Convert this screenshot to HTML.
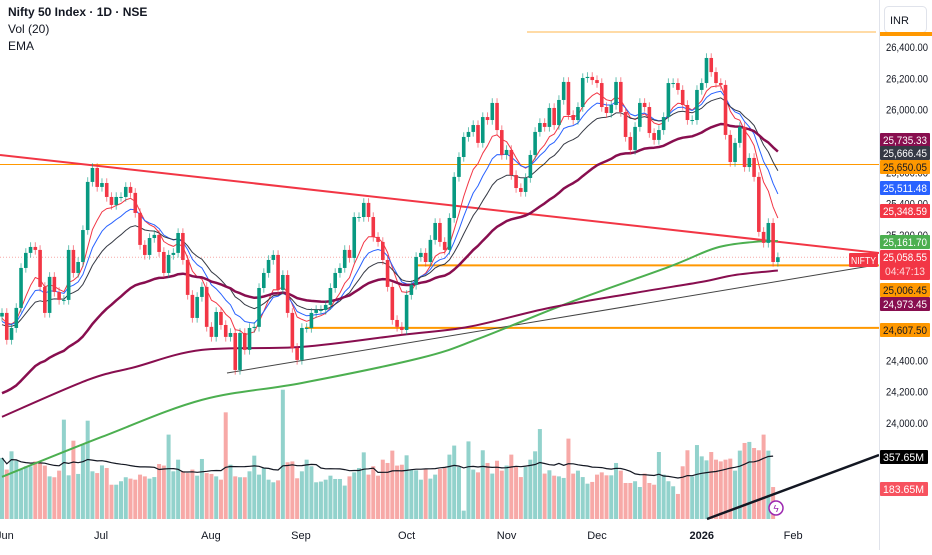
<!DOCTYPE html>
<html><head><meta charset="utf-8">
<style>
html,body{margin:0;padding:0;background:#fff;}
body{width:932px;height:550px;overflow:hidden;font-family:"Liberation Sans",sans-serif;}
svg text{font-family:"Liberation Sans",sans-serif;}
</style></head>
<body>
<svg id="chart" width="932" height="550" viewBox="0 0 932 550" xmlns="http://www.w3.org/2000/svg">
  <rect x="0" y="0" width="932" height="550" fill="#ffffff"/>
  <g id="plot"></g>
  <g id="axis"></g>
  <g id="timeaxis"></g>
  <text x="8" y="16" font-size="12" font-weight="bold" fill="#131722">Nifty 50 Index · 1D · NSE</text>
  <text x="8" y="33" font-size="12" fill="#131722">Vol (20)</text>
  <text x="8" y="50" font-size="12" fill="#131722">EMA</text>
</svg>
<script>
const closes = [24703,24531,24607,24735,24990,25086,25124,25105,24869,24703,24933,24837,24786,24786,25105,24958,25028,25232,25539,25628,
25507,25532,25443,25392,25443,25443,25507,25469,25341,25137,25073,25181,25201,25092,24958,25073,25086,25213,25041,24818,
24671,24805,24869,24614,24550,24709,24626,24550,24575,24339,24575,24467,24607,24614,24862,24958,25041,25073,24850,24945,
24703,24480,24403,24607,24607,24703,24722,24722,24754,24862,24958,24990,25105,25054,25315,25315,25405,25315,25188,25156,
25041,24869,24658,24614,24594,24818,24882,25060,25086,25028,25169,25277,25156,25105,25309,25571,25698,25826,25858,25902,
25788,25953,25934,26043,25870,25711,25743,25583,25500,25475,25564,25711,25858,25915,25890,26011,25902,26062,26177,25966,
25934,26017,26202,26209,26189,26170,26017,25979,26030,26177,25985,25826,25743,25890,26043,26017,25851,25807,25870,25953,
26170,26170,26126,26030,25934,25934,26126,26170,26330,26240,26170,26158,25839,25666,25788,25890,25634,25692,25571,25220,
25150,25277,25028,25058.55];
const firstOpen = 24680;
const volumes = [351,284,389,335,284,303,303,331,322,307,245,240,278,571,251,450,259,427,565,274,
264,308,293,197,197,217,240,232,226,255,245,232,241,316,307,485,274,341,274,264,
284,249,345,264,259,245,226,613,312,245,240,240,274,364,255,293,226,211,222,743,
326,331,234,274,341,303,211,215,226,249,230,230,192,245,268,293,383,255,303,249,
341,322,393,307,312,366,284,280,226,284,232,255,287,293,370,422,299,48,446,284,
268,395,322,261,335,278,307,370,299,241,299,341,389,517,261,280,249,245,236,462,
261,278,241,203,213,255,268,251,251,322,278,207,207,217,184,261,207,197,385,255,
217,188,144,303,395,245,425,360,337,385,341,331,341,347,278,393,437,443,408,395,485,393,183.65];
const emaPeriods = [8, 13, 21, 50];
const emaSeeds = [24660, 24640, 24620, 24170];
const ema100Bars = [0,18,28,42,63,84,98,115,133,147,154,163];
const ema100Vals = [24040,24275,24358,24467,24486,24563,24614,24735,24831,24901,24945,24973.45];
const ema200Bars = [0,21,42,63,88,100,119,140,150,158,163];
const ema200Vals = [23657,23912,24148,24256,24416,24537,24767,24996,25118,25156,25161.7];
const priceTicks = [26400,26200,26000,25800,25600,25400,25200,25000,24800,24600,24400,24200,24000];
const monthLabels = ["Jun","Jul","Aug","Sep","Oct","Nov","Dec","2026","Feb"];
const monthBars = [0.6,20.8,43.9,62.8,85,106,125,147,166.2];

const NS="http://www.w3.org/2000/svg";
const X = i => 2 + i*4.76;
const Y = p => 47 + (26400-p)*0.1567;
const VY = v => 519 - v*0.174;
const plot = document.getElementById('plot');
const axis = document.getElementById('axis');
const taxis = document.getElementById('timeaxis');
function mk(tag, attrs, parent){const e=document.createElementNS(NS,tag);for(const k in attrs)e.setAttribute(k,attrs[k]);parent.appendChild(e);return e;}

const defs = mk('defs',{},plot);
const cp = mk('clipPath',{id:'clipP'},defs);
mk('rect',{x:0,y:0,width:879,height:522},cp);
const g = mk('g',{'clip-path':'url(#clipP)'},plot);

const opens = closes.map((c,i)=> i===0 ? firstOpen : closes[i-1]);
volumes.forEach((v,i)=>{
  const up = closes[i] >= opens[i];
  const r = mk('rect',{x:X(i)-2,y:VY(v),width:4,height:519-VY(v),fill: up?'#92d2cc':'#f7a9a7'},g);
  
  
});
let vpts=[];
for(let i=0;i<volumes.length;i++){
  const s=Math.max(0,i-19);let sum=0;for(let j=s;j<=i;j++)sum+=volumes[j];
  vpts.push(X(i).toFixed(1)+','+VY(sum/(i-s+1)).toFixed(1));
}
const vma = mk('polyline',{points:vpts.join(' '),fill:'none',stroke:'#131722','stroke-width':1.2},g);



function hline(x1,p,w,name,dash,color){
  const l=mk('line',{x1:x1,x2:879,y1:Y(p),y2:Y(p),stroke:color||'#ff9800','stroke-width':w},g);
  if(dash) l.setAttribute('stroke-dasharray',dash);
  
  
}
const topLine = mk('line',{x1:527,x2:876,y1:32,y2:32,stroke:'#ffb74d','stroke-width':1},g);


hline(0,25650.05,1,'resistance-line-25650');
hline(0,25058.55,1,'current-price-line','1 2','#f7a9a7');
hline(415,25006.45,2,'support-line-25006');
hline(305,24607.5,2,'support-line-24607');

const tr1 = mk('line',{x1:0,y1:155,x2:879,y2:253,stroke:'#f23645','stroke-width':2},g);


const tr2 = mk('line',{x1:227,y1:373,x2:876,y2:265,stroke:'#444','stroke-width':1},g);



function smooth(pts){
  let d='M'+pts[0][0]+','+pts[0][1];
  for(let i=0;i<pts.length-1;i++){
    const p0=pts[i-1]||pts[i],p1=pts[i],p2=pts[i+1],p3=pts[i+2]||p2;
    const c1=[p1[0]+(p2[0]-p0[0])/6,p1[1]+(p2[1]-p0[1])/6];
    const c2=[p2[0]-(p3[0]-p1[0])/6,p2[1]-(p3[1]-p1[1])/6];
    d+=' C'+c1.join(',')+' '+c2.join(',')+' '+p2.join(',');
  }
  return d;
}
const e200 = mk('path',{d:smooth(ema200Bars.map((b,k)=>[X(b),Y(ema200Vals[k])])),fill:'none',stroke:'#4caf50','stroke-width':2},g);


const e100 = mk('path',{d:smooth(ema100Bars.map((b,k)=>[X(b),Y(ema100Vals[k])])),fill:'none',stroke:'#880e4f','stroke-width':2},g);



const emaColors=['#f23645','#2962ff','#363a45','#880e4f'];
const emaWidths=[1,1,1,2.5];
emaPeriods.forEach((n,k)=>{
  const a=2/(n+1);let e=emaSeeds[k];const pts=[];
  closes.forEach((c,i)=>{e=e+a*(c-e);pts.push(X(i).toFixed(1)+','+Y(e).toFixed(1));});
  const l=mk('polyline',{points:pts.join(' '),fill:'none',stroke:emaColors[k],'stroke-width':emaWidths[k],'stroke-linejoin':'round'},g);
  
  
});

closes.forEach((c,i)=>{
  const o=opens[i];const up=c>=o;const col=up?'#089981':'#f23645';
  const hi=Math.max(o,c)+30, lo=Math.min(o,c)-30;
  const w=mk('line',{x1:X(i),x2:X(i),y1:Y(hi),y2:Y(lo),stroke:col,'stroke-width':1,opacity:0.6},g);
  
  
  const top=Y(Math.max(o,c)), h=Math.max(1,Math.abs(Y(o)-Y(c)));
  const b=mk('rect',{x:X(i)-1.8,y:top,width:3.6,height:h,fill:col},g);
  
  
});

const vl = mk('line',{x1:707,y1:519,x2:879,y2:455,stroke:'#131722','stroke-width':2.5},g);


const ic = mk('circle',{cx:776,cy:508,r:7,fill:'#fff',stroke:'#9c27b0','stroke-width':1.5},plot);


const icT = mk('text',{x:776,y:512,'font-size':10,fill:'#9c27b0','text-anchor':'middle'},plot);
icT.textContent='ϟ';



const nt = mk('rect',{x:849,y:253,width:29,height:14,fill:'#f23645',rx:1},plot);


const ntt = mk('text',{x:851,y:264,'font-size':10,fill:'#fff',textLength:25,lengthAdjust:'spacingAndGlyphs'},plot);
ntt.textContent='NIFTY';



const ab = mk('line',{x1:879.5,x2:879.5,y1:0,y2:550,stroke:'#e0e3eb','stroke-width':1},axis);


priceTicks.forEach(p=>{
  const t=mk('text',{x:886,y:Y(p)+4,'font-size':11,fill:'#131722',textLength:42,lengthAdjust:'spacingAndGlyphs'},axis);
  t.textContent=p.toLocaleString('en-US',{minimumFractionDigits:2});
  
  
});
const inr = mk('rect',{x:884.5,y:6.5,width:42,height:26,rx:4,fill:'#fff',stroke:'#e0e3eb'},axis);


const inrT = mk('text',{x:890,y:24,'font-size':11,fill:'#131722'},axis);
inrT.textContent='INR';


const orangeTop = mk('rect',{x:880,y:32,width:52,height:4,fill:'#ff9800'},axis);



const tagTexts=['25,735.33','25,666.45','25,650.05','25,511.48','25,348.59','25,161.70','25,006.45','24,973.45','24,607.50','357.65M','183.65M'];
const tagY=[140,153,167,188,211,242,290,304,330,457,489];
const tagBg=['#880e4f','#363a45','#ff9800','#2962ff','#f23645','#4caf50','#ff9800','#880e4f','#ff9800','#000000','#f7525f'];
const tagFg=['#fff','#fff','#131722','#fff','#fff','#fff','#131722','#fff','#131722','#fff','#fff'];
tagTexts.forEach((s,k)=>{
  const vol = s.endsWith('M');
  const r=mk('rect',{x:880,y:tagY[k]-7,width:vol?48:50,height:14,fill:tagBg[k],rx:1},axis);
  
  
  const t=mk('text',{x:883,y:tagY[k]+4,'font-size':11,fill:tagFg[k],textLength:vol?41:44,lengthAdjust:'spacingAndGlyphs'},axis);
  t.textContent=s;
  
  
});
const cr=mk('rect',{x:880,y:250,width:50,height:30,fill:'#f23645',rx:1},axis);


const ct1=mk('text',{x:883,y:261,'font-size':11,fill:'#fff',textLength:44,lengthAdjust:'spacingAndGlyphs'},axis);
ct1.textContent='25,058.55';


const ct2=mk('text',{x:885,y:275,'font-size':11,fill:'#ffd6d9',textLength:40,lengthAdjust:'spacingAndGlyphs'},axis);
ct2.textContent='04:47:13';



monthLabels.forEach((m,k)=>{
  const t=mk('text',{x:X(monthBars[k]),y:539,'font-size':11,fill:'#131722','text-anchor':'middle','font-weight':m==='2026'?'bold':'normal'},taxis);
  t.textContent=m;
  
  
});
</script>
</body></html>
